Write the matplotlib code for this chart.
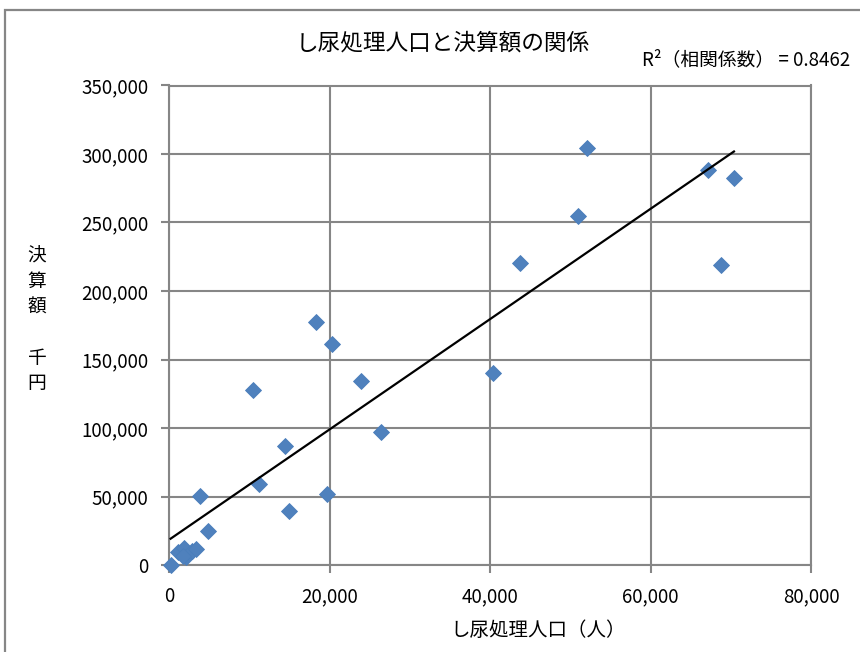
import numpy as np
import matplotlib
matplotlib.use("Agg")
import matplotlib.pyplot as plt
from matplotlib.patches import Rectangle
from matplotlib.ticker import FuncFormatter, MultipleLocator

plt.rcParams['font.family'] = ['Noto Sans CJK JP', 'DejaVu Sans']

# し尿処理人口（人）
population = [200, 1120, 1870, 2120, 2870, 3360, 1740, 3860, 4900,
              10500, 11250, 14450, 14950, 18320, 19730, 20270, 23880,
              26420, 40330, 43780, 50930, 52090, 67170, 68790, 70400]
# 決算額（千円）
cost = [300, 9500, 12400, 5800, 10200, 11700, 6600, 50400, 25000,
        127700, 59300, 87100, 39200, 177400, 51600, 161100, 134300,
        97300, 140400, 220200, 254700, 304200, 288300, 219000, 282500]

title = "し尿処理人口と決算額の関係"
r2_text = "R²（相関係数） = 0.8462"
x_label = "し尿処理人口（人）"
y_label_chars = ["決", "算", "額", "", "千", "円"]

grid_color = "#868686"
marker_color = "#4F81BD"

W, H = 860, 652
fig = plt.figure(figsize=(W / 100, H / 100), dpi=100)
ax = fig.add_axes([169 / W, 1 - 565 / H, (811 - 169) / W, (565 - 85.5) / H])

x = np.asarray(population, dtype=float)
y = np.asarray(cost, dtype=float)

# linear trend line over the observed range
slope, intercept = np.polyfit(x, y, 1)
xs = np.linspace(x.min(), x.max(), 50)
ax.plot(xs, slope * xs + intercept, color="black", lw=1.6, zorder=4)

ax.plot(x, y, linestyle="none", marker="D", markersize=8.6,
        markerfacecolor=marker_color, markeredgecolor="#4A7EBB",
        markeredgewidth=0.6, zorder=3, clip_on=False)

ax.set_xlim(0, 80000)
ax.set_ylim(0, 350000)
ax.xaxis.set_major_locator(MultipleLocator(20000))
ax.yaxis.set_major_locator(MultipleLocator(50000))
fmt = FuncFormatter(lambda v, p: f"{int(round(v)):,}")
ax.xaxis.set_major_formatter(fmt)
ax.yaxis.set_major_formatter(fmt)

ax.grid(True, color=grid_color, lw=1.5)
ax.set_axisbelow(True)
for side in ("left", "bottom", "right", "top"):
    ax.spines[side].set_color(grid_color)
    ax.spines[side].set_linewidth(1.5)
ax.tick_params(axis="both", which="major", direction="out", length=6,
               width=1.5, color=grid_color, labelsize=13.5, pad=9)
ax.tick_params(axis="x", pad=9)

fig.text(443 / W, 1 - 43 / H, title, ha="center", va="center", fontsize=16.3)
fig.text(850 / W, 1 - 60 / H, r2_text, ha="right", va="center", fontsize=13.5)
fig.text(538 / W, 1 - 631 / H, x_label, ha="center", va="center", fontsize=14)

y0 = 256
for i, ch in enumerate(y_label_chars):
    if ch:
        fig.text(37 / W, 1 - (y0 + i * 25.5) / H, ch, ha="center",
                 va="center", fontsize=13.5)

# chart frame
fig.add_artist(Rectangle((5 / W, -0.1), 1.0, 1 - 10 / H + 0.1,
                         transform=fig.transFigure, fill=False,
                         edgecolor=grid_color, lw=1.6))

fig.savefig("out.png", dpi=100)
